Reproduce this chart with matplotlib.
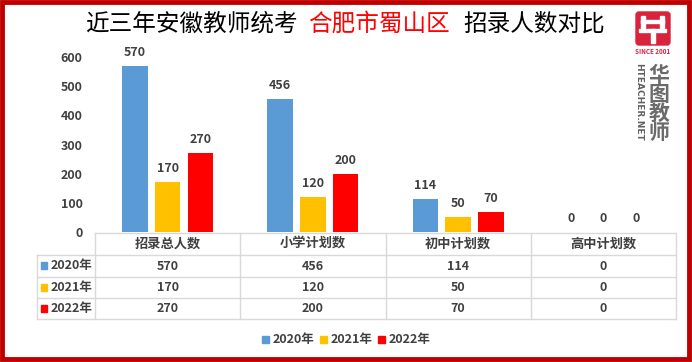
import matplotlib
matplotlib.use("Agg")
import matplotlib.pyplot as plt
from matplotlib.patches import Rectangle, FancyBboxPatch

plt.rcParams['font.family'] = ['Noto Sans CJK SC', 'DejaVu Sans']

categories = ["招录总人数", "小学计划数", "初中计划数", "高中计划数"]
series_names = ["2020年", "2021年", "2022年"]
values_2020 = [570, 456, 114, 0]
values_2021 = [170, 120, 50, 0]
values_2022 = [270, 200, 70, 0]
yticks = [0, 100, 200, 300, 400, 500, 600]
title_parts = ["近三年安徽教师统考", "合肥市蜀山区", "招录人数对比"]

series = [values_2020, values_2021, values_2022]
colors = ["#5b9bd5", "#ffc000", "#ff0000"]
txt = "#404040"
grid = "#d9d9d9"

W, H = 692, 362
fig = plt.figure(figsize=(W / 100, H / 100), dpi=100)
fig.patch.set_facecolor("white")

def fx(px):
    return px / W

def fy(py):
    return 1 - py / H

# main bar axes
left, right, top, bottom = 95, 676, 57, 232
ax = fig.add_axes([fx(left), fy(bottom), (right - left) / W, (bottom - top) / H])
ax.set_xlim(-0.5, len(categories) - 0.5)
ax.set_ylim(0, 600)
step, bw = 0.225, 0.175
for j, vals in enumerate(series):
    xs = [i + (j - 1) * step for i in range(len(categories))]
    ax.bar(xs, vals, width=bw, color=colors[j], zorder=2)
    for x, v in zip(xs, vals):
        ax.annotate(str(v), (x, v), xytext=(0, 5), textcoords="offset points",
                    ha="center", va="bottom", fontsize=9, fontweight="bold",
                    color=txt, annotation_clip=False)
for s in ax.spines.values():
    s.set_visible(False)
ax.set_xticks([])
ax.set_yticks(yticks)
ax.set_yticklabels([str(t) for t in yticks], fontsize=9, fontweight="bold", color=txt)
ax.tick_params(axis="y", length=0, pad=9)
ax.patch.set_alpha(0)

# overlay in pixel coords
ov = fig.add_axes([0, 0, 1, 1])
ov.set_xlim(0, W)
ov.set_ylim(H, 0)
ov.axis("off")
ov.patch.set_alpha(0)

# title
tx = [85, 308, 463]
tcol = ["black", "#ff0000", "black"]
for x, t, c in zip(tx, title_parts, tcol):
    ov.text(x, 24, t, fontsize=17, color=c, ha="left", va="center", fontweight="medium")

# table
col_edges = [left + (right - left) * k / len(categories) for k in range(len(categories) + 1)]
row_edges = [233, 255, 277, 298, 319]
tl = 37
lw = 1.0
ov.plot([left, right], [row_edges[0], row_edges[0]], color=grid, lw=lw)
for yv in row_edges[1:]:
    ov.plot([tl, right], [yv, yv], color=grid, lw=lw)
ov.plot([tl, tl], [row_edges[1], row_edges[-1]], color=grid, lw=lw)
for xv in col_edges:
    ov.plot([xv, xv], [row_edges[0], row_edges[-1]], color=grid, lw=lw)
for k, c in enumerate(categories):
    cx = (col_edges[k] + col_edges[k + 1]) / 2
    ov.text(cx, (row_edges[0] + row_edges[1]) / 2, c, fontsize=9.5, color=txt,
            ha="center", va="center", fontweight="bold")
for j, vals in enumerate(series):
    cy = (row_edges[j + 1] + row_edges[j + 2]) / 2
    ov.add_patch(Rectangle((41, cy - 4), 6, 7, color=colors[j]))
    ov.text(51, cy, series_names[j], fontsize=9, color=txt, ha="left", va="center",
            fontweight="bold")
    for k, v in enumerate(vals):
        cx = (col_edges[k] + col_edges[k + 1]) / 2
        ov.text(cx, cy, str(v), fontsize=9, color=txt, ha="center", va="center",
                fontweight="bold")

# legend
lx = [262, 320, 378]
for j in range(3):
    ov.add_patch(Rectangle((lx[j], 336), 7, 7, color=colors[j]))
    ov.text(lx[j] + 11, 340, series_names[j], fontsize=9, color=txt, ha="left",
            va="center", fontweight="bold")

# logo
lr = "#d9223c"
ov.add_patch(FancyBboxPatch((636, 12), 34, 33, boxstyle="round,pad=0,rounding_size=3",
                            color=lr))
wh = "white"
ov.add_patch(Rectangle((641, 16), 4, 12, color=wh))
ov.add_patch(Rectangle((660, 16), 4, 12, color=wh))
ov.add_patch(Rectangle((641, 20), 23, 3, color=wh))
ov.add_patch(Rectangle((639, 29), 27, 3, color=wh))
ov.add_patch(Rectangle((651, 29), 4, 14, color=wh))
ov.text(653, 51, "SINCE 2001", fontsize=4.5, color=lr, ha="center", va="center",
        fontweight="bold")
ov.text(639, 102, "HTEACHER.NET", fontsize=6.5, color="#606060", ha="center",
        va="center", rotation=-90, fontweight="bold", family="DejaVu Sans")
for k, ch in enumerate("华图教师"):
    ov.text(659, 75 + k * 19.3, ch, fontsize=15, color="#6b6b6b", ha="center",
            va="center", fontweight="bold")

# border
ov.add_patch(Rectangle((2, 2), W - 5, H - 5, fill=False, edgecolor="#c00000", lw=3.5))

fig.savefig("out.png", dpi=100, facecolor="white")
